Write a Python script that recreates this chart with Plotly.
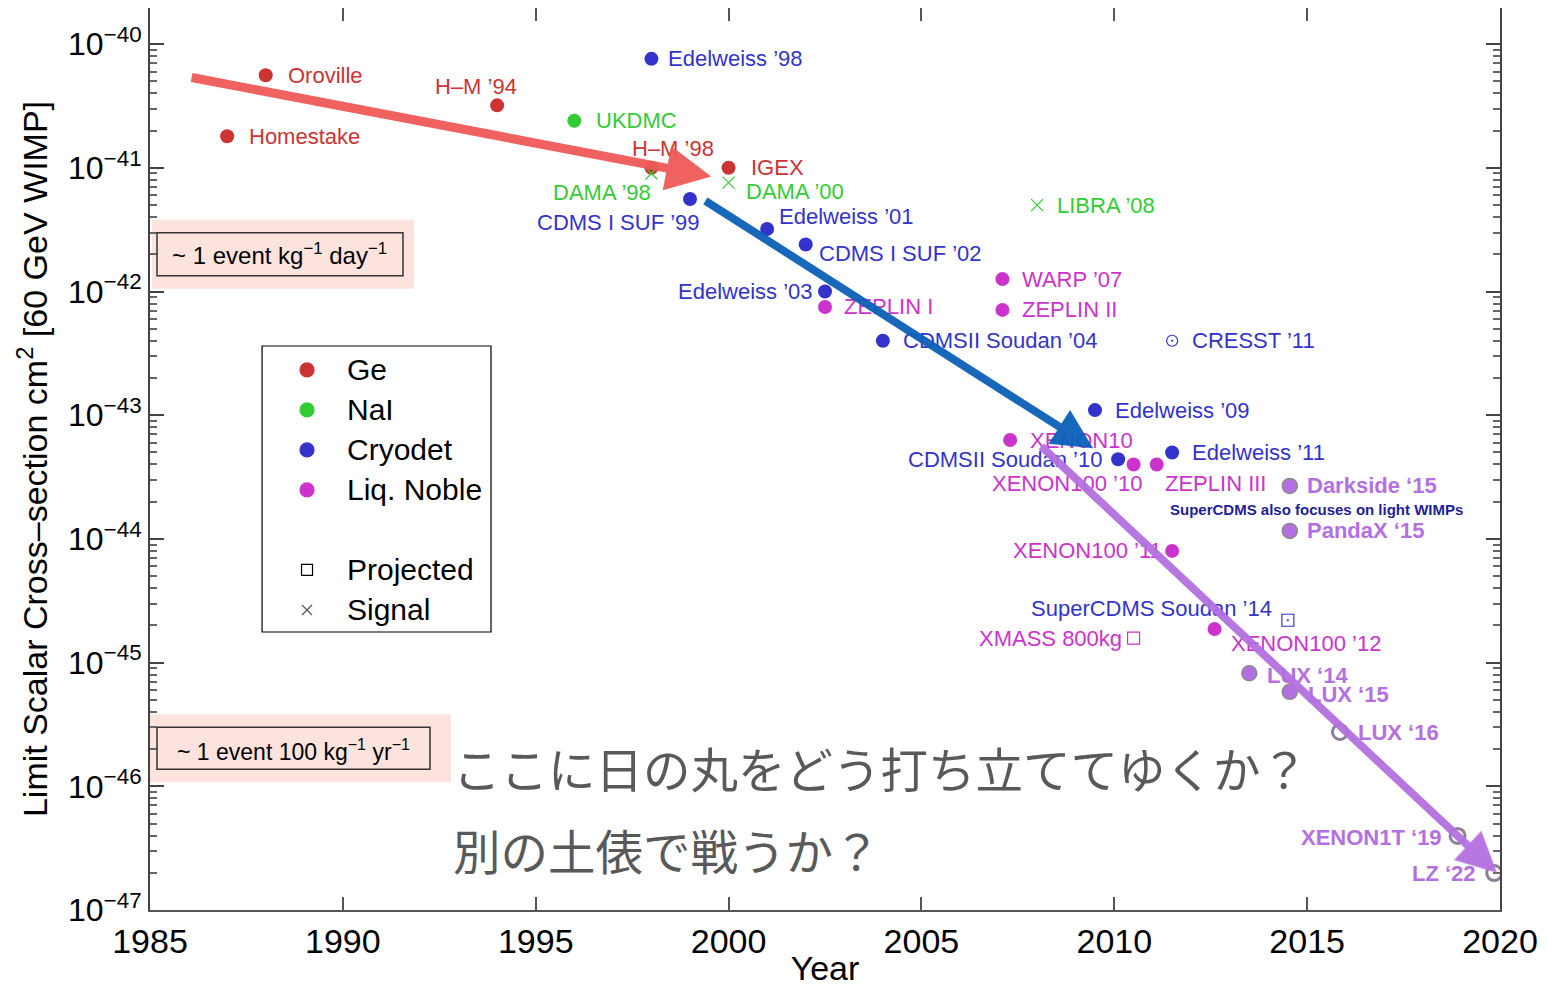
import numpy as np
import plotly.graph_objects as go

# ---------------- data ----------------
ge_names = ["Oroville", "Homestake", "H–M ’94", "H–M ’98", "IGEX"]
ge_years = [1988.0, 1987.0, 1994.0, 1998.0, 2000.0]
ge_sigma = [5.6e-41, 1.8e-41, 3.2e-41, 1.0e-41, 1.0e-41]

nai_names = ["UKDMC"]
nai_years = [1996.0]
nai_sigma = [2.4e-41]

signal_names = ["DAMA ’98", "DAMA ’00", "LIBRA ’08"]
signal_years = [1998.0, 2000.0, 2008.0]
signal_sigma = [9.0e-42, 7.6e-42, 5.0e-42]

cryo_names = ["Edelweiss ’98", "CDMS I SUF ’99", "Edelweiss ’01", "CDMS I SUF ’02",
              "Edelweiss ’03", "CDMSII Soudan ’04", "Edelweiss ’09",
              "CDMSII Soudan ’10", "Edelweiss ’11"]
cryo_years = [1998.0, 1999.0, 2001.0, 2002.0, 2002.5, 2004.0, 2009.5, 2010.1, 2011.5]
cryo_sigma = [7.6e-41, 5.6e-42, 3.2e-42, 2.4e-42, 1.0e-42, 4.0e-43, 1.1e-43, 4.4e-44, 5.0e-44]

cresst_names = ["CRESST ’11"]
cresst_years = [2011.5]
cresst_sigma = [4.0e-43]

noble_names = ["ZEPLIN I", "WARP ’07", "ZEPLIN II", "XENON10", "XENON100 ’10",
               "ZEPLIN III", "XENON100 ’11", "XENON100 ’12"]
noble_years = [2002.5, 2007.1, 2007.1, 2007.3, 2010.5, 2011.1, 2011.5, 2012.6]
noble_sigma = [7.5e-43, 1.26e-42, 7.1e-43, 6.3e-44, 4.0e-44, 4.0e-44, 8.0e-45, 1.87e-45]

proj_cryo_names = ["SuperCDMS Soudan ’14"]
proj_cryo_years = [2014.5]
proj_cryo_sigma = [2.2e-45]

proj_noble_names = ["XMASS 800kg"]
proj_noble_years = [2010.5]
proj_noble_sigma = [1.58e-45]

recent_names = ["Darkside ‘15", "PandaX ‘15", "LUX ‘14", "LUX ‘15"]
recent_years = [2014.55, 2014.55, 2013.5, 2014.55]
recent_sigma = [2.68e-44, 1.16e-44, 8.2e-46, 5.8e-46]

future_names = ["LUX ‘16", "XENON1T ‘19", "LZ ‘22"]
future_years = [2015.85, 2018.9, 2019.85]
future_sigma = [2.75e-46, 3.97e-47, 1.99e-47]

# trend arrows (start -> end)
trend_start_years = [1986.04, 1999.36, 2008.07]
trend_start_sigma = [5.4e-41, 5.5e-42, 5.75e-44]
trend_end_years = [1999.55, 2009.45, 2019.92]
trend_end_sigma = [8.5e-42, 5.4e-44, 2.0e-47]

legend_labels = ["Ge", "NaI", "Cryodet", "Liq. Noble", "", "Projected", "Signal"]

x_ticks = [1985, 1990, 1995, 2000, 2005, 2010, 2015, 2020]
y_exps = [-47, -46, -45, -44, -43, -42, -41, -40]

# ---------------- styles ----------------
RED = "#cc3333"
GREEN = "#33cc33"
BLUE = "#3333cc"
MAG = "#cc33cc"
PURP = "#b470e0"
FONT = "Liberation Sans, Arial, Helvetica, sans-serif"
trend_colors = ["#ef5a58", "#0b60b8", "#b470e0"]
trend_widths = [9, 8, 8]

label_style = {
    "Oroville": ("left", 20, 0), "Homestake": ("left", 20, 0),
    "H–M ’94": ("center", -21, -19), "H–M ’98": ("center", 22, -19),
    "IGEX": ("left", 20, 0), "UKDMC": ("left", 20, 0),
    "DAMA ’98": ("right", 2, 19), "DAMA ’00": ("left", 15, 9),
    "LIBRA ’08": ("left", 18, 0),
    "Edelweiss ’98": ("left", 15, 0), "CDMS I SUF ’99": ("right", 12, 24),
    "Edelweiss ’01": ("left", 10, -13), "CDMS I SUF ’02": ("left", 11, 9),
    "Edelweiss ’03": ("right", -10, 0), "CDMSII Soudan ’04": ("left", 18, 0),
    "Edelweiss ’09": ("left", 18, 0), "CDMSII Soudan ’10": ("right", -14, 0),
    "Edelweiss ’11": ("left", 18, 0), "CRESST ’11": ("left", 18, 0),
    "SuperCDMS Soudan ’14": ("right", -14, -12),
    "ZEPLIN I": ("left", 17, 0), "WARP ’07": ("left", 18, 0),
    "ZEPLIN II": ("left", 18, 0), "XENON10": ("left", 18, 0),
    "XENON100 ’10": ("right", 10, 19), "ZEPLIN III": ("left", 6, 19),
    "XENON100 ’11": ("right", -8, 0), "XENON100 ’12": ("left", 14, 15),
    "XMASS 800kg": ("right", -10, 0),
    "Darkside ‘15": ("left", 15, 0), "PandaX ‘15": ("left", 15, 0),
    "LUX ‘14": ("left", 16, 2), "LUX ‘15": ("left", 16, 3),
    "LUX ‘16": ("left", 16, 1), "XENON1T ‘19": ("right", -14, 2),
    "LZ ‘22": ("right", -16, 0),
}

fig = go.Figure()

def add_points(years, sigma, symbol, color, size, line_color=None, line_width=0):
    fig.add_trace(go.Scatter(
        x=years, y=sigma, mode="markers", showlegend=False, hoverinfo="skip",
        marker=dict(symbol=symbol, color=color, size=size,
                    line=dict(color=line_color or color, width=line_width))))

add_points(ge_years, ge_sigma, "circle", RED, 14)
add_points(nai_years, nai_sigma, "circle", GREEN, 14)
add_points(signal_years, signal_sigma, "x-thin-open", GREEN, 12, GREEN, 1.2)
add_points(cryo_years, cryo_sigma, "circle", BLUE, 14)
add_points(cresst_years, cresst_sigma, "circle-open-dot", BLUE, 11, BLUE, 1.2)
add_points(noble_years, noble_sigma, "circle", MAG, 14)
add_points(proj_cryo_years, proj_cryo_sigma, "square-open-dot", BLUE, 12, BLUE, 1.2)
add_points(proj_noble_years, proj_noble_sigma, "square-open", MAG, 12, MAG, 1.2)
add_points(recent_years, recent_sigma, "circle", PURP, 15, "#8a8a8a", 1.5)
add_points(future_years, future_sigma, "circle", "rgba(255,255,255,0.6)", 15, "#8c8097", 3)

annotations = []

def add_labels(names, years, sigma, color, bold=False):
    for n, yr, s in zip(names, years, sigma):
        anc, dx, dy = label_style[n]
        annotations.append(dict(
            x=yr, y=np.log10(s), xref="x", yref="y", text=(f"<b>{n}</b>" if bold else n),
            showarrow=False, xanchor=anc, yanchor="middle", xshift=dx, yshift=-dy,
            font=dict(family=FONT, size=22, color=color)))

add_labels(ge_names, ge_years, ge_sigma, RED)
add_labels(nai_names, nai_years, nai_sigma, GREEN)
add_labels(signal_names, signal_years, signal_sigma, GREEN)
add_labels(cryo_names, cryo_years, cryo_sigma, BLUE)
add_labels(cresst_names, cresst_years, cresst_sigma, BLUE)
add_labels(noble_names, noble_years, noble_sigma, MAG)
add_labels(proj_cryo_names, proj_cryo_years, proj_cryo_sigma, BLUE)
add_labels(proj_noble_names, proj_noble_years, proj_noble_sigma, MAG)
add_labels(recent_names, recent_years, recent_sigma, PURP, bold=True)
add_labels(future_names, future_years, future_sigma, PURP, bold=True)

annotations.append(dict(
    x=2015.23, y=-43.766, xref="x", yref="y",
    text="<b>SuperCDMS also focuses on light WIMPs</b>", showarrow=False,
    font=dict(family=FONT, size=15, color="#1f1f99")))

# trend arrows
for sy, ss, ey, es, c, w in zip(trend_start_years, trend_start_sigma,
                                trend_end_years, trend_end_sigma, trend_colors, trend_widths):
    annotations.append(dict(
        x=ey, y=np.log10(es), ax=sy, ay=np.log10(ss), xref="x", yref="y",
        axref="x", ayref="y", text="", showarrow=True, arrowhead=2,
        arrowsize=1.0, arrowwidth=w, arrowcolor=c, opacity=0.95))

# Japanese text
annotations.append(dict(x=1992.80, y=-45.845, xref="x", yref="y",
                        text="ここに日の丸をどう打ち立ててゆくか？", showarrow=False,
                        xanchor="left", yanchor="middle",
                        font=dict(family="Noto Sans CJK JP", size=47.5, color="#595959")))
annotations.append(dict(x=1992.80, y=-46.51, xref="x", yref="y",
                        text="別の土俵で戦うか？", showarrow=False,
                        xanchor="left", yanchor="middle",
                        font=dict(family="Noto Sans CJK JP", size=47.5, color="#595959")))

# rate boxes (fractions of the plot area, on the overlay axes)
shapes = []
PINK = "#fde3dd"
shapes.append(dict(type="rect", xref="x2", yref="y2", x0=0.0015, x1=0.1956,
                   y0=0.6888, y1=0.7652, fillcolor=PINK, line=dict(width=0), layer="below"))
shapes.append(dict(type="rect", xref="x2", yref="y2", x0=0.0052, x1=0.1874,
                   y0=0.7032, y1=0.7508, fillcolor="rgba(0,0,0,0)",
                   line=dict(color="#333", width=1.5)))
annotations.append(dict(x=1988.37, y=-41.70, xref="x", yref="y", showarrow=False,
                        text="~ 1 event kg<sup>−1</sup> day<sup>−1</sup>",
                        font=dict(family=FONT, size=24, color="black")))
shapes.append(dict(type="rect", xref="x2", yref="y2", x0=0.0, x1=0.2230,
                   y0=0.1417, y1=0.2171, fillcolor=PINK, line=dict(width=0), layer="below"))
shapes.append(dict(type="rect", xref="x2", yref="y2", x0=0.0052, x1=0.2074,
                   y0=0.1561, y1=0.2027, fillcolor="rgba(0,0,0,0)",
                   line=dict(color="#333", width=1.5)))
annotations.append(dict(x=1988.71, y=-45.71, xref="x", yref="y", showarrow=False,
                        text="~ 1 event 100 kg<sup>−1</sup> yr<sup>−1</sup>",
                        font=dict(family=FONT, size=23, color="black")))

# custom legend (overlay axes spanning the plot area, 0..1)
LEG_X0, LEG_X1, LEG_Y0, LEG_Y1 = 0.0830, 0.2526, 0.3082, 0.6253
shapes.append(dict(type="rect", xref="x2", yref="y2", x0=LEG_X0, x1=LEG_X1,
                   y0=LEG_Y0, y1=LEG_Y1, line=dict(color="black", width=1.2),
                   fillcolor="white", layer="below"))
row_top, row_step = 0.5987, 40 / 902
leg_syms = ["circle", "circle", "circle", "circle", None, "square-open", "x-thin-open"]
leg_cols = [RED, GREEN, BLUE, MAG, None, "black", "#555555"]
leg_sizes = [14, 14, 14, 14, 0, 11, 10]
for i, (lab, sym, col, sz) in enumerate(zip(legend_labels, leg_syms, leg_cols, leg_sizes)):
    yy = row_top - i * row_step
    if sym:
        fig.add_trace(go.Scatter(x=[0.1163], y=[yy], xaxis="x2", yaxis="y2", mode="markers",
                                 showlegend=False, hoverinfo="skip",
                                 marker=dict(symbol=sym, color=col, size=sz,
                                             line=dict(color=col, width=1.2))))
    if lab:
        annotations.append(dict(x=0.1445, y=yy, xref="x2", yref="y2", text=lab,
                                showarrow=False, xanchor="left", yanchor="middle",
                                font=dict(family=FONT, size=30, color="black")))

minor_vals = [k * 10.0 ** e for e in range(-48, -39) for k in range(2, 10)]

fig.update_layout(
    width=1539, height=979,
    margin=dict(l=142, r=47, t=0, b=77, autoexpand=False),
    plot_bgcolor="white", paper_bgcolor="white",
    showlegend=False,
    annotations=annotations, shapes=shapes,
    xaxis=dict(range=[1985, 2020], tickmode="array", tickvals=x_ticks,
               ticktext=[str(t) for t in x_ticks], automargin=False,
               ticks="inside", ticklen=13, tickwidth=1.5, tickcolor="#555",
               mirror="allticks", showline=True, linecolor="#555", linewidth=2,
               showgrid=False, zeroline=False,
               tickfont=dict(family=FONT, size=34, color="black"),
               ticklabelstandoff=0,
               title=dict(text="Year", font=dict(family=FONT, size=34, color="black"),
                          standoff=6)),
    yaxis=dict(type="log", range=[-47, -39.708], tickmode="array",
               tickvals=[10.0 ** e for e in y_exps], automargin=False,
               ticktext=[f"10<sup>−{-e}</sup>" for e in y_exps],
               ticks="inside", ticklen=14, tickwidth=1.5, tickcolor="#444",
               minor=dict(ticks="inside", ticklen=7, tickwidth=1.5, tickcolor="#666",
                          tickvals=minor_vals),
               mirror="allticks", showline=True, linecolor="#444", linewidth=2,
               showgrid=False, zeroline=False,
               tickfont=dict(family=FONT, size=32, color="black"),
               title=dict(text="Limit Scalar Cross–section cm<sup>2</sup> [60 GeV WIMP]",
                          font=dict(family=FONT, size=34, color="black"), standoff=10)),
    xaxis2=dict(overlaying="x", range=[0, 1], visible=False, anchor="y2"),
    yaxis2=dict(overlaying="y", range=[0, 1], visible=False, anchor="x2"),
)

fig.write_html("out.html")
